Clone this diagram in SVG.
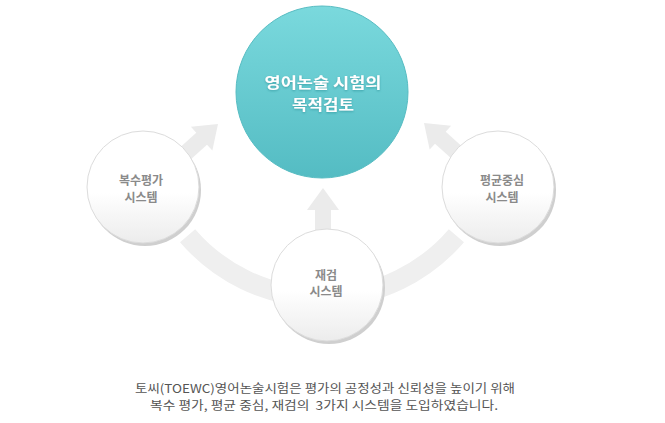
<svg xmlns="http://www.w3.org/2000/svg" width="665" height="423" viewBox="0 0 665 423">
<defs>
<linearGradient id="gMain" x1="0" y1="0" x2="0" y2="1">
<stop offset="0" stop-color="#7ad9dd"/>
<stop offset="1" stop-color="#54bcc3"/>
</linearGradient>
<linearGradient id="gSub" x1="0" y1="0" x2="0" y2="1">
<stop offset="0" stop-color="#ffffff"/>
<stop offset="0.55" stop-color="#ffffff"/>
<stop offset="1" stop-color="#ececec"/>
</linearGradient>
<filter id="tshadow" x="-20%" y="-40%" width="140%" height="180%">
<feGaussianBlur in="SourceAlpha" stdDeviation="0.8"/>
<feOffset dx="0" dy="0.5" result="b"/>
<feFlood flood-color="#2a8f96" flood-opacity="0.7"/>
<feComposite in2="b" operator="in"/>
<feMerge><feMergeNode/><feMergeNode in="SourceGraphic"/></feMerge>
</filter>
<polygon id="arrow" points="0,0 16,22 8,22 8,70 -8,70 -8,22 -16,22"/>
</defs>
<style>
.band{fill:none;stroke:#efefef;stroke-width:20}
.arr{fill:#ebebeb}
.sub{fill:url(#gSub);stroke:#dcdcdc;stroke-width:1}
.shadow{fill:#cfcfcf}
.subt{font-family:"Noto Sans CJK KR","Noto Sans",sans-serif;font-size:12px;font-weight:bold;fill:#8a8a8a;text-anchor:middle}
.maint{font-family:"Noto Sans CJK KR","Noto Sans",sans-serif;font-size:15px;font-weight:bold;fill:#ffffff;text-anchor:middle}
.cap{font-family:"Noto Sans CJK KR","Noto Sans",sans-serif;font-size:12px;fill:#555555;text-anchor:middle;white-space:pre}
</style>
<rect width="665" height="423" fill="#ffffff"/>
<g id="connectors">
<path class="band" d="M 187.6 235.7 A 177 177 0 0 0 456.4 235.7"/>
<use href="#arrow" class="arr" transform="translate(218,124) rotate(48)"/>
<use href="#arrow" class="arr" transform="translate(424,123) rotate(-48)"/>
<use href="#arrow" class="arr" transform="translate(323,188)"/>
</g>
<g id="main">
<circle cx="322" cy="92" r="86" fill="url(#gMain)" stroke="#56bcc2" stroke-width="1"/>
<g filter="url(#tshadow)">
<text class="maint" x="323" y="88" textLength="117" lengthAdjust="spacingAndGlyphs">영어논술 시험의</text>
<text class="maint" x="323" y="109.5" textLength="62" lengthAdjust="spacingAndGlyphs">목적검토</text>
</g>
</g>
<g id="node-left">
<circle class="shadow" cx="145" cy="190" r="56"/>
<circle class="sub" cx="143" cy="187" r="56"/>
<text class="subt" x="141" y="184.5">복수평가</text>
<text class="subt" x="141" y="202">시스템</text>
</g>
<g id="node-right">
<circle class="shadow" cx="500" cy="190" r="56"/>
<circle class="sub" cx="498" cy="187" r="56"/>
<text class="subt" x="502" y="184.5">평균중심</text>
<text class="subt" x="502" y="202">시스템</text>
</g>
<g id="node-bottom">
<circle class="shadow" cx="329" cy="288" r="56"/>
<circle class="sub" cx="327" cy="285" r="56"/>
<text class="subt" x="326" y="279.5">재검</text>
<text class="subt" x="326" y="296">시스템</text>
</g>
<g id="caption">
<text class="cap" x="325" y="393" textLength="380" lengthAdjust="spacingAndGlyphs">토씨(TOEWC)영어논술시험은 평가의 공정성과 신뢰성을 높이기 위해</text>
<text class="cap" x="324" y="410" textLength="348" lengthAdjust="spacingAndGlyphs">복수 평가, 평균 중심, 재검의  3가지 시스템을 도입하였습니다.</text>
</g>
</svg>
